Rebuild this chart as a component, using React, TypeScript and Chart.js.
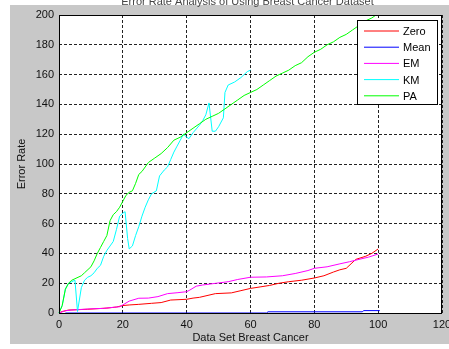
import React, { useEffect, useRef } from 'react';
import { Chart, registerables } from 'chart.js';

Chart.register(...registerables);

const chartTitle = 'Error Rate Analysis of Using Breast Cancer Dataset';
const xAxisTitle = 'Data Set Breast Cancer';
const yAxisTitle = 'Error Rate';
const xTickValues = [0, 20, 40, 60, 80, 100, 120];
const yTickValues = [0, 20, 40, 60, 80, 100, 120, 140, 160, 180, 200];
const seriesLabels = ['Zero', 'Mean', 'EM', 'KM', 'PA'];
const seriesColors = ['#ff0000', '#0000ff', '#ff00ff', '#00ffff', '#00ff00'];

const zeroData: [number, number][] = [
  [0, 0], [1, 1], [3, 2], [9, 2.5], [15, 3.3], [18, 4], [20, 5], [22, 5.4], [25, 5.8], [29, 6.5],
  [32, 7], [35, 8.7], [40, 9.2], [42, 10], [44, 10.5], [47, 12], [49, 13], [54, 13.5], [57, 15],
  [60, 16.5], [63, 17.5], [66, 18.5], [69, 20], [72, 21], [76, 22], [80, 23.5], [83, 25], [86, 27.5],
  [88, 29], [90, 30], [91.5, 33], [93, 36], [96, 38], [98, 40], [100, 43],
];

const meanData: [number, number][] = [
  [2, 0], [65, 0], [65.5, 0.8], [95, 0.8], [95.5, 1.6], [100.5, 1.6],
];

const emData: [number, number][] = [
  [0, 0], [2, 1.5], [4, 2], [10, 2.8], [14, 3.1], [17, 3.8], [19, 4.2], [20, 5.4], [22, 8], [25, 9.9],
  [28, 10], [31, 11], [34, 13], [37, 13.6], [40, 14.3], [41, 15.4], [43, 18], [45, 18.8], [49, 19.9],
  [53, 21], [56, 22.5], [60, 24], [65, 24.2], [70, 25], [74, 26.5], [78, 28.5], [80, 30], [84, 31],
  [88, 33], [91, 34.4], [94, 36], [97, 37.5], [100, 39.6],
];

const kmData: [number, number][] = [
  [0, 0], [1, 5], [2, 16], [3, 20], [4, 21], [5, 22], [5.8, 1], [7, 17], [8, 22], [9, 24], [10, 25],
  [11, 27], [12, 30], [13, 32], [14, 38], [15, 42], [16, 45], [17, 48], [18, 56], [19, 65], [20, 67],
  [20.7, 68], [21.5, 50], [22, 43], [23, 45], [24, 52], [25, 58], [26, 65], [27, 71], [28, 76], [29, 80],
  [30.5, 82], [31.5, 92], [33, 96], [34, 98], [35, 103], [36, 108], [37, 112], [38, 116], [39, 120],
  [40, 118], [40.7, 117], [42, 121], [44, 126], [45, 129], [46, 133], [47, 141], [48, 122], [49, 122],
  [50, 125], [51.5, 131], [52, 148], [53, 153], [55, 155], [57, 158], [59, 162], [60, 163],
];

const paData: [number, number][] = [
  [0, 0], [1, 5], [2, 16], [3, 20], [4, 22], [5, 23], [7, 25], [8, 27], [10, 31], [11, 35], [12, 40],
  [13, 44], [14, 48], [15, 52], [16, 62], [17, 66], [18, 68], [19, 71], [20, 75], [21, 79], [22, 81],
  [23, 82], [24, 87], [25, 93], [26, 95], [27, 98], [28, 101], [30, 104], [32, 107], [34, 111],
  [36, 116], [38, 118], [40, 121], [42, 124], [44, 127], [46, 130], [48, 132], [50, 134], [52, 137],
  [54, 140], [56, 143], [58, 146], [60, 148], [62, 150], [64, 153], [66, 156], [68, 159], [70, 161],
  [72, 163], [74, 166], [76, 168], [78, 172], [80, 175], [82, 177], [84, 180], [86, 182], [88, 185],
  [90, 187], [92, 190], [94, 193], [96, 196], [98, 198], [100, 201],
];

const allSeries = [zeroData, meanData, emData, kmData, paData];

const FONT = '"Liberation Sans", Arial, sans-serif';

const decorPlugin = {
  id: 'decor',
  beforeDraw(chart: any) {
    const { ctx, chartArea: a, width, height } = chart;
    ctx.save();
    ctx.fillStyle = '#ffffff';
    ctx.fillRect(0, 0, width, height);
    ctx.fillStyle = '#c8c8c8';
    ctx.fillRect(10, 5, width - 10, height - 5 - 5);
    ctx.fillStyle = '#ffffff';
    ctx.fillRect(a.left, a.top, a.right - a.left, a.bottom - a.top);
    ctx.fillStyle = '#444';
    ctx.font = '11px ' + FONT;
    ctx.textAlign = 'center';
    ctx.textBaseline = 'alphabetic';
    ctx.fillText(chartTitle, (a.left + a.right) / 2 - 3, 4.5);
    ctx.restore();
  },
  afterDatasetsDraw(chart: any) {
    const { ctx, chartArea: a } = chart;
    ctx.save();
    ctx.strokeStyle = '#000';
    ctx.lineWidth = 1;
    ctx.setLineDash([]);
    ctx.strokeRect(Math.round(a.left) + 0.5, Math.round(a.top) + 0.5, Math.round(a.right - a.left) - 1, Math.round(a.bottom - a.top));
    // legend
    const lx = a.right - 85;
    const ly = a.top + 5;
    const lw = 80;
    const lh = 84;
    ctx.fillStyle = '#fff';
    ctx.fillRect(lx, ly, lw, lh);
    ctx.strokeStyle = '#000';
    ctx.strokeRect(lx + 0.5, ly + 0.5, lw, lh);
    ctx.font = '11px ' + FONT;
    ctx.textAlign = 'left';
    ctx.textBaseline = 'middle';
    chart.data.datasets.forEach((ds: any, i: number) => {
      const y = ly + 11 + i * 16.2;
      ctx.strokeStyle = ds.borderColor;
      ctx.beginPath();
      ctx.moveTo(lx + 7, y);
      ctx.lineTo(lx + 42, y);
      ctx.stroke();
      ctx.fillStyle = '#000';
      ctx.fillText(ds.label, lx + 46, y + 1);
    });
    ctx.restore();
  },
};

export default function App() {
  const ref = useRef<HTMLCanvasElement>(null);
  useEffect(() => {
    document.body.style.margin = '0';
    const canvas = ref.current!;
    const tickFont = { family: FONT, size: 11 };
    const chart = new Chart(canvas, {
      type: 'line',
      data: {
        datasets: allSeries.map((s, i) => ({
          label: seriesLabels[i],
          data: s.map(([x, y]) => ({ x, y })),
          borderColor: seriesColors[i],
          backgroundColor: seriesColors[i],
          borderWidth: 1,
          pointRadius: 0,
          fill: false,
          tension: 0,
          order: allSeries.length - i,
          clip: { left: 1, top: 0, right: 1, bottom: 2 },
        })),
      },
      options: {
        responsive: false,
        animation: false,
        devicePixelRatio: 1,
        layout: { padding: { left: 0, top: 15, right: 7, bottom: 0 } },
        plugins: { legend: { display: false }, tooltip: { enabled: false }, title: { display: false } },
        scales: {
          x: {
            type: 'linear',
            min: 0,
            max: 120,
            afterBuildTicks: (s: any) => { s.ticks = xTickValues.map((v) => ({ value: v })); },
            afterFit: (s: any) => { s.height = 36; s.paddingLeft = 0; s.paddingRight = 0; },
            ticks: { font: tickFont, color: '#111', padding: 5, autoSkip: false, maxRotation: 0 },
            grid: { color: '#222', lineWidth: 1, drawTicks: false },
            border: { display: false, dash: [3, 2] },
            title: { display: true, text: xAxisTitle, font: tickFont, color: '#111', padding: { top: 0, bottom: 4 } },
          },
          y: {
            type: 'linear',
            min: 0,
            max: 200,
            afterBuildTicks: (s: any) => { s.ticks = yTickValues.map((v) => ({ value: v })); },
            afterFit: (s: any) => { s.width = 59; s.paddingTop = 0; s.paddingBottom = 0; },
            ticks: { font: tickFont, color: '#111', padding: 5, autoSkip: false },
            grid: { color: '#222', lineWidth: 1, drawTicks: false },
            border: { display: false, dash: [3, 2] },
            title: { display: true, text: yAxisTitle, font: tickFont, color: '#111', padding: { top: 15, bottom: 0 } },
          },
        },
      },
      plugins: [decorPlugin],
    } as any);
    return () => chart.destroy();
  }, []);
  return <canvas ref={ref} width={449} height={349} style={{ display: 'block', width: 449, height: 349 }} />;
}
